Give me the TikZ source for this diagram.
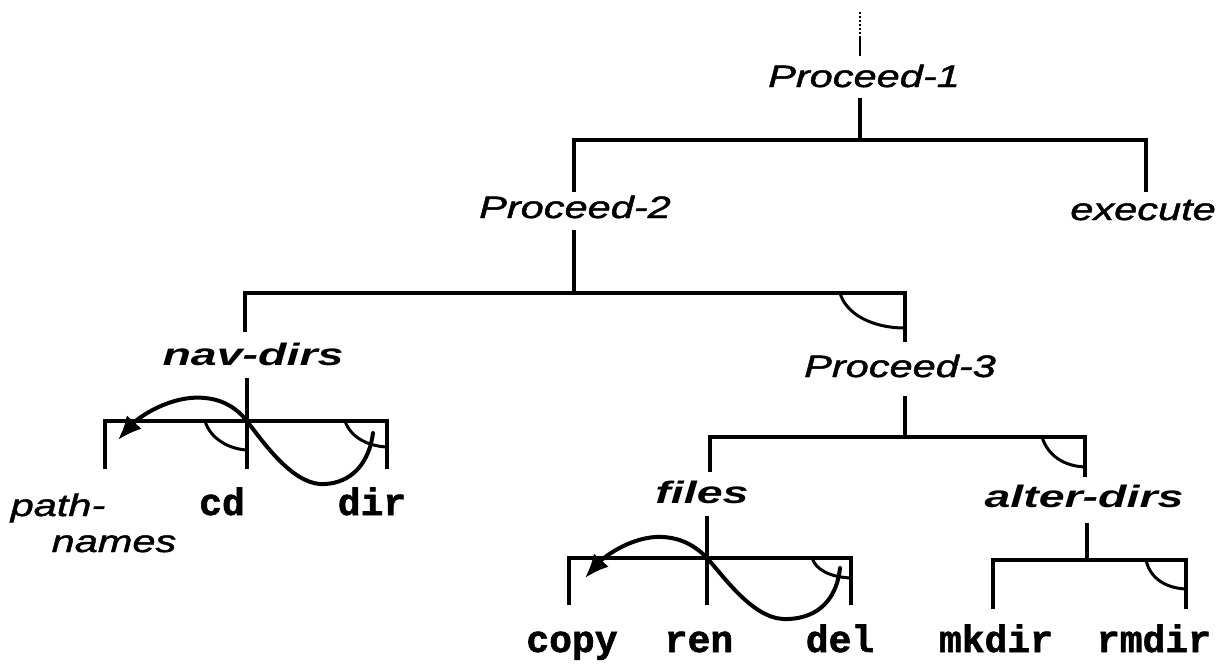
\documentclass[tikz,border=0pt]{standalone}
\usepackage{fontspec}
\usetikzlibrary{arrows.meta}
\newfontfamily\ntfont[FakeStretch=1.34,FakeBold=1.5]{Liberation Sans}
\newfontfamily\ntbfont[FakeStretch=1.5]{Liberation Sans}
\newfontfamily\tmfont[FakeBold=1.5]{Liberation Mono}
\tikzset{
  nt/.style={font=\ntfont\itshape\fontsize{31}{36}\selectfont, inner sep=0pt, anchor=base},
  ntb/.style={font=\ntbfont\bfseries\itshape\fontsize{31}{36}\selectfont, inner sep=0pt, anchor=base},
  term/.style={font=\tmfont\bfseries\fontsize{38}{42}\selectfont, inner sep=0pt, anchor=base},
  ln/.style={line width=3.2pt, line cap=rect},
  wave/.style={line width=4pt, line cap=round, -{Latex[length=24pt,width=20pt]}},
  cornermark/.style={line width=3pt}
}
\begin{document}
\begin{tikzpicture}[x=1pt,y=-1pt]
\useasboundingbox (0,0) rectangle (1222,665);
% labels
\node[nt] (p1) at (864,87) {Proceed-1};
\node[nt] (p2) at (575,218) {Proceed-2};
\node[nt,anchor=base east] (ex) at (1216,220) {execute};
\node[ntb] (nd) at (253,365) {nav-dirs};
\node[nt] (p3) at (900,377) {Proceed-3};
\node[ntb] (fi) at (702,503) {files};
\node[ntb] (ad) at (1084,507) {alter-dirs};
\node[nt] (pn1) at (58,516) {path-};
\node[nt] (pn2) at (114,552) {names};
\node[term] (cd) at (222,515) {cd};
\node[term] (dir) at (372,515) {dir};
\node[term] (cp) at (572,652) {copy};
\node[term] (rn) at (699,652) {ren};
\node[term] (dl) at (840,652) {del};
\node[term] (mk) at (996,652) {mkdir};
\node[term] (rm) at (1154,652) {rmdir};
% coordinates
\coordinate (top0) at (860,12);
\coordinate (top1) at (860,36);
\coordinate (top2) at (860,56);
\coordinate (a1) at (860,100);
\coordinate (b1) at (860,140);
\coordinate (b1l) at (574,140);
\coordinate (b1r) at (1146,140);
\coordinate (d1l) at (574,190);
\coordinate (d1r) at (1146,190);
\coordinate (a2) at (574,232);
\coordinate (b2) at (574,293);
\coordinate (b2l) at (245,293);
\coordinate (b2r) at (905,293);
\coordinate (d2l) at (245,330);
\coordinate (d2r) at (905,340);
\coordinate (a3) at (905,398);
\coordinate (b3) at (905,437);
\coordinate (b3l) at (710,437);
\coordinate (b3r) at (1085,437);
\coordinate (d3l) at (710,470);
\coordinate (d3r) at (1085,475);
\coordinate (a4) at (1087,525);
\coordinate (b4) at (1087,560);
\coordinate (b4l) at (993,560);
\coordinate (b4r) at (1186,560);
\coordinate (d4l) at (993,607);
\coordinate (d4r) at (1186,607);
\coordinate (na) at (247,380);
\coordinate (nb) at (247,421);
\coordinate (nc) at (247,467);
\coordinate (nl) at (105,421);
\coordinate (nr) at (387,421);
\coordinate (nld) at (105,467);
\coordinate (nrd) at (387,467);
\coordinate (fa) at (707,518);
\coordinate (fb) at (707,558);
\coordinate (fc) at (707,603);
\coordinate (fl) at (569,558);
\coordinate (fr) at (851,558);
\coordinate (fld) at (569,603);
\coordinate (frd) at (851,603);
% tree lines
\draw[line width=2pt, dotted] (top0) -- (top1);
\draw[line width=2pt] (top1) -- (top2);
\draw[ln] (a1) -- (b1);
\draw[ln] (d1l) -- (b1l) -- (b1r) -- (d1r);
\draw[ln] (a2) -- (b2);
\draw[ln] (d2l) -- (b2l) -- (b2r) -- (d2r);
\draw[ln] (a3) -- (b3);
\draw[ln] (d3l) -- (b3l) -- (b3r) -- (d3r);
\draw[ln] (a4) -- (b4);
\draw[ln] (d4l) -- (b4l) -- (b4r) -- (d4r);
\draw[ln] (na) -- (nc);
\draw[ln] (nld) -- (nl) -- (nr) -- (nrd);
\draw[ln] (fa) -- (fc);
\draw[ln] (fld) -- (fl) -- (fr) -- (frd);
% corner marks
\draw[cornermark] (840,293) .. controls (846,314) and (872,328) .. (905,328);
\draw[cornermark] (1042,437) .. controls (1048,456) and (1064,466) .. (1085,467);
\draw[cornermark] (1146,560) .. controls (1150,578) and (1165,588) .. (1186,589);
\draw[cornermark] (205,421) .. controls (210,438) and (228,449) .. (247,450);
\draw[cornermark] (345,421) .. controls (350,436) and (366,446) .. (387,447);
\draw[cornermark] (812,558) .. controls (816,570) and (830,577) .. (851,578);
% waves
\draw[wave] (373,433) .. controls (368,470) and (345,485) .. (320,484)
  .. controls (292,482) and (265,445) .. (247,421)
  .. controls (232,402) and (212,396) .. (190,398)
  .. controls (162,401) and (138,418) .. (118,440);
\draw[wave] (840,568) .. controls (836,605) and (812,620) .. (783,619)
  .. controls (752,617) and (725,578) .. (707,558)
  .. controls (692,542) and (674,536) .. (655,537)
  .. controls (628,539) and (604,557) .. (585,578);
\end{tikzpicture}
\end{document}
